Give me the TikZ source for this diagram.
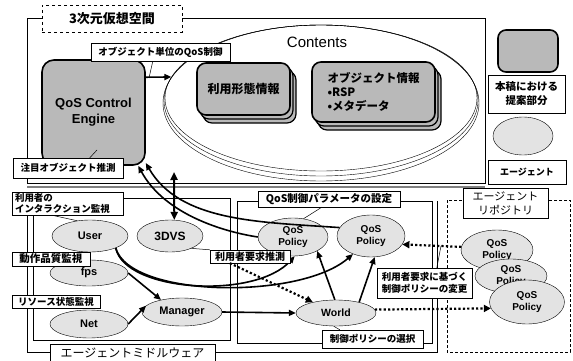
\documentclass[tikz,border=0pt]{standalone}
\usepackage{fontspec}
\setmainfont{Liberation Sans}
\newfontfamily\jp{Noto Sans CJK JP}
\usetikzlibrary{shapes.geometric,arrows.meta,calc}
\begin{document}
\begin{tikzpicture}[x=1pt,y=-1pt,
  agent/.style={ellipse,draw,fill=gray!22,inner sep=0pt,align=center,font=\bfseries\fontsize{10}{11.5}\selectfont},
  lbl/.style={draw,fill=white,inner sep=1pt,align=left,font=\jp\bfseries\fontsize{9.5}{12}\selectfont},
  prop/.style={draw,line width=1.6pt,rounded corners=9pt,fill=gray!55},
  arr/.style={line width=1.6pt,-{Triangle[length=7pt,width=6pt]}},
  dotarr/.style={line width=2.2pt,dash pattern=on 2.2pt off 2.2pt,-{Triangle[length=7pt,width=7pt]}},
  lead/.style={line width=0.5pt},
  frame/.style={line width=0.7pt},
]
\useasboundingbox (0,0) rectangle (573,361);

% 3D virtual space frame
\draw[frame] (27,18) rectangle (485,183);
\draw[line width=2pt,gray] (27,187) -- (485,187);
\node[lbl,dashed,align=center,minimum width=140pt,minimum height=27pt,font=\jp\bfseries\fontsize{13}{15}\selectfont] (space) at (112,18.5) {3次元仮想空間};

% Contents ellipse
\draw (321,103) ellipse [x radius=158, y radius=78];
\draw (321,100.5) ellipse [x radius=157, y radius=75.5];
\node[ellipse,draw,minimum width=312pt,minimum height=146pt,inner sep=0pt] (contents) at (321,98) {};
\node[font=\fontsize{15}{17}\selectfont] (ctitle) at (317,42) {Contents};

% stacks
\draw[prop,line width=1.2pt] (203,71) rectangle (296,123);
\draw[prop,line width=1.2pt] (200,67) rectangle (293,119);
\node[prop,minimum width=93pt,minimum height=52pt,font=\jp\bfseries\fontsize{12}{14}\selectfont] (usage) at (243.5,89) {利用形態情報};
\draw[prop,line width=1.2pt] (318,70) rectangle (441,130);
\draw[prop,line width=1.2pt] (315,66) rectangle (438,126);
\node[prop,minimum width=123pt,minimum height=60pt,align=left,font=\jp\bfseries\fontsize{11.5}{14}\selectfont] (objinfo) at (373.5,92) {オブジェクト情報\\•RSP\\•メタデータ};

% engine
\node[prop,rounded corners=12pt,minimum width=103pt,minimum height=105pt,align=center,font=\bfseries\fontsize{13}{16}\selectfont] (engine) at (93.5,112.5) {QoS Control\\Engine};
\draw[arr] (engine.34) -- (contents.172);
\node[lbl,minimum width=139pt,minimum height=18pt] (objqos) at (160.5,52) {オブジェクト単位のQoS制御};
\coordinate (lq) at (149,78);
\draw[lead] ($(objqos.south west)+(62,0)$) -- (lq);

% legend
\node[prop,rounded corners=8pt,minimum width=60pt,minimum height=42pt] (leg1) at (528,51) {};
\node[lbl,align=center,minimum width=77pt,minimum height=38pt,font=\jp\bfseries\fontsize{10.5}{14}\selectfont] (leg1l) at (526.5,94) {本稿における\\提案部分};
\node[agent,minimum width=60pt,minimum height=38pt] (leg2) at (523,136) {};
\node[lbl,minimum width=78pt,minimum height=24pt,font=\jp\bfseries\fontsize{9}{11}\selectfont] (leg2l) at (527,172.5) {エージェント};

% middleware frames
\draw[frame] (27,197) -- (27,352) -- (437,352) -- (437,201);
\draw[frame] (33,198) rectangle (230,340);
\draw[frame] (237,201) rectangle (432,343);
\draw[frame,densely dashed] (447,200) rectangle (570,352);

% agents
\node[agent,minimum width=76pt,minimum height=32pt,font=\bfseries\fontsize{11}{12}\selectfont] (user) at (90,236) {User};
\node[agent,minimum width=66pt,minimum height=32pt,font=\bfseries\fontsize{12}{13}\selectfont] (dvs) at (170,236) {3DVS};
\node[agent,minimum width=78pt,minimum height=26pt,font=\bfseries\fontsize{11}{12}\selectfont] (fps) at (89,273) {fps};
\node[agent,minimum width=78pt,minimum height=28pt,font=\bfseries\fontsize{11}{12}\selectfont] (net) at (89,324) {Net};
\node[agent,minimum width=80pt,minimum height=28pt,font=\bfseries\fontsize{11}{12}\selectfont] (manager) at (182,312) {Manager};
\node[agent,minimum width=70pt,minimum height=38pt] (pol1) at (293,237) {QoS\\Policy};
\node[agent,minimum width=68pt,minimum height=42pt] (pol2) at (371,236) {QoS\\Policy};
\node[agent,minimum width=80pt,minimum height=26pt,font=\bfseries\fontsize{10.5}{12}\selectfont] (world) at (336,313) {World};
\node[agent,minimum width=72pt,minimum height=40pt] (rp1) at (497,250) {QoS\\Policy};
\node[agent,minimum width=72pt,minimum height=34pt] (rp2) at (511,276) {QoS\\Policy};
\node[agent,minimum width=75pt,minimum height=44pt] (rp3) at (527,302) {QoS\\Policy};

% connectors
\draw[arr] (pol1.west) .. controls (225,232) and (165,215) .. (engine.-50);
\draw[arr] (pol2.165) .. controls (260,222) and (180,222) .. (engine.-44);
\coordinate (vtop) at (174,172);
\draw[line width=2pt,{Triangle[length=8pt,width=7pt]}-{Triangle[length=8pt,width=7pt]}] (dvs.75) -- (vtop);
\draw[arr] (user.-25) .. controls (125,292) and (255,300) .. (pol1.-85);
\draw[arr] (user.-25) .. controls (130,298) and (300,300) .. (pol2.-135);
\draw[arr] (fps.east) -- (manager.150);
\draw[arr] (net.east) -- (manager.170);
\draw[arr] (manager.east) -- (world.west);
\draw[arr] (world.95) -- (pol1.-30);
\draw[arr] (world.25) -- (pol2.-80);
\draw[dotarr] (rp1.175) -- (pol2.-15);
\draw[dotarr] (world.5) -- (rp3.190);

% labels
\node[lbl,minimum width=110pt,minimum height=20pt] (chumoku) at (68,168) {注目オブジェクト推測};
\coordinate (le) at (97,150);
\draw[lead] ($(chumoku.north west)+(77,0)$) -- (le);
\node[lbl,minimum width=111pt,minimum height=23pt,text width=105pt,font=\jp\bfseries\fontsize{9.5}{11.5}\selectfont] (riyousha) at (67.5,203.5) {利用者の\\インタラクション監視};
\draw[lead] ($(riyousha.south west)+(40,0)$) -- (user.130);
\node[lbl,minimum width=78pt,minimum height=14pt,font=\jp\bfseries\fontsize{10.5}{12}\selectfont] (dousa) at (51,259) {動作品質監視};
\node[lbl,minimum width=88pt,minimum height=13pt] (resource) at (56,301.5) {リソース状態監視};
\node[lbl,minimum width=80pt,minimum height=13pt,font=\jp\bfseries\fontsize{10}{12}\selectfont] (req) at (250,256.5) {利用者要求推測};
\draw[lead] (req.north west) -- (dvs.-30);
\draw[dotarr] ($(req.south west)!0.25!(req.south east)$) -- (world.155);
\node[lbl,minimum width=142pt,minimum height=16pt,font=\jp\bfseries\fontsize{10.5}{12}\selectfont] (param) at (329,199) {QoS制御パラメータの設定};
\draw[lead] ($(param.south west)+(64,0)$) -- (pol1.60);
\node[lbl,minimum width=95pt,minimum height=30pt] (change) at (424.5,283) {利用者要求に基づく\\制御ポリシーの変更};
\coordinate (lc) at (441,246);
\draw[lead] ($(change.north west)+(60,0)$) -- (lc);
\node[lbl,minimum width=101pt,minimum height=18pt] (select) at (372.5,339) {制御ポリシーの選択};
\draw[lead] ($(select.north west)+(18,0)$) -- (world.-100);
\node[lbl,align=center,minimum width=85pt,minimum height=30pt,font=\jp\fontsize{11}{14}\selectfont] (repo) at (505.5,203) {エージェント\\リポジトリ};
\node[lbl,minimum width=165pt,minimum height=17pt,font=\jp\fontsize{12}{14}\selectfont] (mw) at (132.5,353) {エージェントミドルウェア};
\end{tikzpicture}
\end{document}
